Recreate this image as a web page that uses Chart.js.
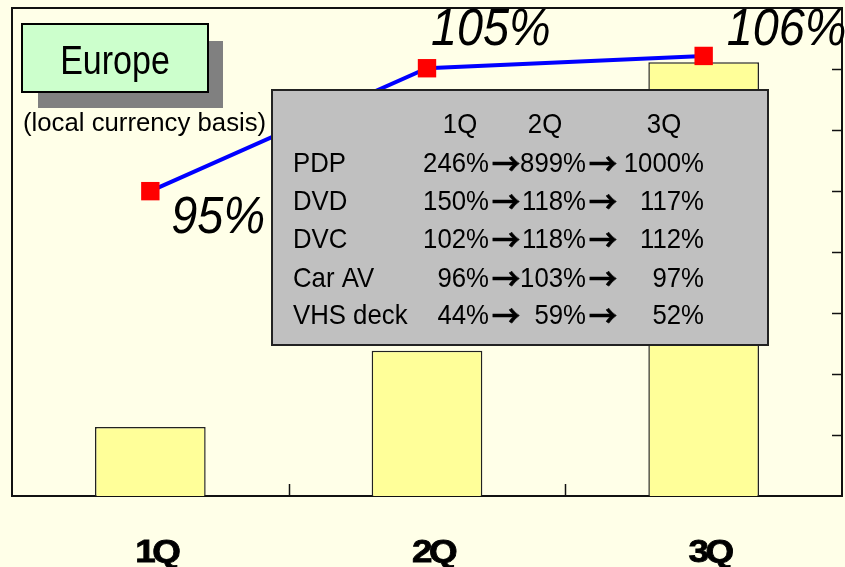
<!DOCTYPE html>
<html><head><meta charset="utf-8">
<script src="https://cdn.jsdelivr.net/npm/chart.js@4/dist/chart.umd.min.js"></script>
<style>html,body{margin:0;padding:0;background:#FFFFE8;overflow:hidden}#wrap{width:845px;height:567px}</style>
</head><body><div id="wrap"><canvas id="c" width="845" height="567"></canvas></div>
<script>
// ---- data ----
const categories = ['1Q', '2Q', '3Q'];
const salesBars = [1.13, 2.38, 7.11];          // bar heights (right axis units)
const ratioLine = [95, 105, 106];               // year-on-year %, line
const ratioLabels = ['95%', '105%', '106%'];
const tableHeader = ['1Q', '2Q', '3Q'];
const tableProducts = ['PDP', 'DVD', 'DVC', 'Car AV', 'VHS deck'];
const tableQ1 = [246, 150, 102, 96, 44];
const tableQ2 = [899, 118, 118, 103, 59];
const tableQ3 = [1000, 117, 112, 97, 52];
const titleText = 'Europe';
const subtitleText = '(local currency basis)';

const FONT = '"Liberation Sans", Arial, sans-serif';

function txt(ctx, s, x, y, font, align, sx, stroke, ls) {
  ctx.save();
  ctx.font = font;
  if (ls) ctx.letterSpacing = ls;
  ctx.textBaseline = 'alphabetic';
  ctx.textAlign = align || 'left';
  ctx.translate(x, y);
  ctx.scale(sx || 1, 1);
  ctx.fillStyle = '#000';
  ctx.fillText(s, 0, 0);
  if (stroke) { ctx.strokeStyle = '#000'; ctx.lineWidth = stroke; ctx.strokeText(s, 0, 0); }
  ctx.restore();
}

const decor = {
  id: 'decor',
  beforeDatasetsDraw(chart) {
    const ctx = chart.ctx, a = chart.chartArea;
    const xs = chart.scales.x, ys = chart.scales.y;
    ctx.save();
    ctx.strokeStyle = '#111';
    ctx.lineWidth = 2;
    ctx.strokeRect(a.left, a.top, a.right - a.left, a.bottom - a.top);
    ctx.lineWidth = 1.5;
    // right-axis inner ticks
    ys.ticks.forEach((t, i) => {
      if (i === 0 || i === ys.ticks.length - 1) return;
      const y = Math.round(ys.getPixelForTick(i)) + 0.5;
      ctx.beginPath(); ctx.moveTo(a.right - 10, y); ctx.lineTo(a.right, y); ctx.stroke();
    });
    // x-axis inner ticks between categories
    for (let i = 0; i < categories.length - 1; i++) {
      const x = Math.round((xs.getPixelForValue(i) + xs.getPixelForValue(i + 1)) / 2) + 0.5;
      ctx.beginPath(); ctx.moveTo(x, a.bottom - 12); ctx.lineTo(x, a.bottom); ctx.stroke();
    }
    ctx.restore();
  },
  afterDatasetsDraw(chart) {
    const ctx = chart.ctx;
    const xs = chart.scales.x;
    const meta = chart.getDatasetMeta(0);
    const offs = [[21, 42], [4, -23], [23, -11]];
    meta.data.forEach((p, i) => {
      txt(ctx, ratioLabels[i], p.x + offs[i][0], p.y + offs[i][1], 'italic 52px ' + FONT, 'left', 0.9);
    });
    // category labels
    categories.forEach((c, i) => {
      txt(ctx, c, xs.getPixelForValue(i) + 6, 562, 'bold 32px ' + FONT, 'center', 1.15, 0.8, '-3px');
    });
    // Europe box
    ctx.save();
    ctx.fillStyle = '#808080';
    ctx.fillRect(38, 41, 185, 67);
    ctx.fillStyle = '#CCFFCC';
    ctx.fillRect(22, 24, 186, 68);
    ctx.strokeStyle = '#000'; ctx.lineWidth = 2;
    ctx.strokeRect(22, 24, 186, 68);
    ctx.restore();
    txt(ctx, titleText, 115, 74, '40px ' + FONT, 'center', 0.85);
    txt(ctx, subtitleText, 23, 131, '26px ' + FONT, 'left', 0.99);
    // table box
    ctx.save();
    ctx.fillStyle = '#C0C0C0';
    ctx.fillRect(272, 90, 496, 255);
    ctx.strokeStyle = '#222'; ctx.lineWidth = 2;
    ctx.strokeRect(272, 90, 496, 255);
    ctx.restore();
    const f = '28px ' + FONT, sx = 0.92;
    const af = 'bold 30px "Noto Sans CJK JP", sans-serif';
    const hx = [460, 545, 664];
    tableHeader.forEach((h, i) => txt(ctx, h, hx[i], 133, f, 'center', sx));
    const rowY = [172, 210, 248, 287, 324];
    tableProducts.forEach((p, i) => {
      const y = rowY[i];
      txt(ctx, p, 293, y, f, 'left', sx);
      txt(ctx, tableQ1[i] + '%', 489, y, f, 'right', sx);
      txt(ctx, '\u2192', 506, y + 3, af, 'center', 0.95, 0.6);
      txt(ctx, tableQ2[i] + '%', 586, y, f, 'right', sx);
      txt(ctx, '\u2192', 603, y + 3, af, 'center', 0.95, 0.6);
      txt(ctx, tableQ3[i] + '%', 704, y, f, 'right', sx);
    });
  }
};

new Chart(document.getElementById('c'), {
  data: {
    labels: categories,
    datasets: [
      {
        type: 'line', data: ratioLine, yAxisID: 'y1', order: 0,
        borderColor: '#0000FF', borderWidth: 4, tension: 0,
        pointStyle: 'rect', pointRadius: 13, pointHoverRadius: 13,
        pointBackgroundColor: '#FF0000', pointBorderWidth: 0, clip: false
      },
      {
        type: 'bar', data: salesBars, yAxisID: 'y', order: 1,
        backgroundColor: '#FFFF99', borderColor: '#222', borderWidth: 1.5,
        categoryPercentage: 1, barPercentage: 0.4
      }
    ]
  },
  options: {
    responsive: false, animation: false, devicePixelRatio: 1,
    layout: { autoPadding: false, padding: { left: 12, right: 3, top: 8, bottom: 71 } },
    plugins: { legend: { display: false }, tooltip: { enabled: false } },
    scales: {
      x: { display: false, offset: true },
      y: { display: false, position: 'right', min: 0, max: 8, ticks: { stepSize: 1 } },
      y1: { display: false, min: 70.2, max: 109.9 }
    }
  },
  plugins: [decor]
});
</script></body></html>
